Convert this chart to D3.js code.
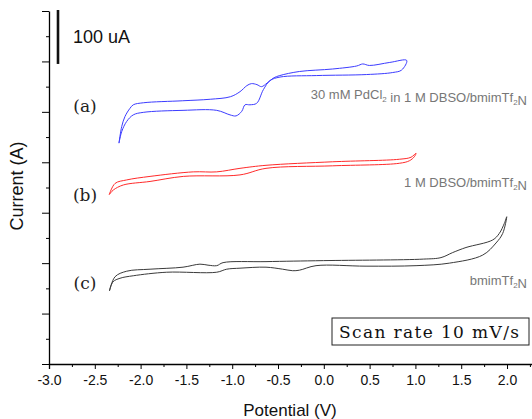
<!DOCTYPE html>
<html>
<head>
<meta charset="utf-8">
<script src="https://cdn.jsdelivr.net/npm/d3@7"></script>
<style>
  body { margin: 0; background: #fff; }
  svg { display: block; }
</style>
</head>
<body>
<div id="my_dataviz"></div>
<script>
// potential (V), current (uA), each loop closed at the left tip
const curveA = [
  [-2.236, 438], [-2.206, 471], [-2.170, 491], [-2.116, 507], [-2.080, 514], [-1.970, 518],
  [-1.54, 522], [-1.24, 525], [-1.02, 530], [-0.915, 540], [-0.84, 552], [-0.79, 556],
  [-0.73, 554], [-0.68, 550], [-0.62, 557], [-0.55, 567], [-0.48, 572], [-0.267, 580],
  [0.097, 585], [0.36, 591], [0.425, 595], [0.497, 592], [0.72, 598], [0.905, 602],
  [0.85, 583], [0.752, 578], [0.468, 574], [-0.078, 572], [-0.478, 569], [-0.587, 562],
  [-0.660, 544], [-0.733, 517], [-0.806, 514], [-0.860, 514], [-0.896, 501], [-0.958, 492],
  [-1.024, 494], [-1.169, 503], [-1.537, 503], [-1.971, 499], [-2.080, 494], [-2.152, 481],
  [-2.206, 461], [-2.236, 438]
];
const curveB = [
  [-2.342, 336], [-2.279, 358], [-2.152, 365], [-1.897, 372], [-1.425, 381], [-1.169, 381],
  [-0.915, 388], [-0.631, 394], [0.097, 401], [0.824, 406], [0.952, 410], [1.007, 418],
  [0.988, 411], [0.934, 403], [0.824, 398], [0.097, 393], [-0.631, 388], [-0.915, 375],
  [-1.534, 372], [-1.897, 362], [-2.189, 355], [-2.298, 345], [-2.342, 336]
];
const curveC = [
  [-2.340, 145], [-2.279, 173], [-2.152, 184], [-1.897, 188], [-1.537, 192], [-1.352, 198],
  [-1.264, 196], [-1.169, 195], [-1.100, 201], [-0.631, 203], [-0.005, 205], [1.086, 208],
  [1.279, 211], [1.407, 221], [1.552, 231], [1.844, 246], [1.916, 259], [1.971, 279],
  [1.997, 292],
  [1.953, 259], [1.880, 240], [1.735, 216], [1.370, 200], [1.007, 195], [0.461, 194],
  [-0.085, 195], [-0.267, 186], [-0.340, 185], [-0.449, 188], [-0.631, 192], [-0.915, 190],
  [-1.060, 188], [-1.169, 182], [-1.715, 182], [-2.080, 175], [-2.225, 170], [-2.301, 163],
  [-2.340, 145]
];
const curveColors = ["#3c3cff", "#ff2a2a", "#3a3a3a"];
const curveTags = ["(a)", "(b)", "(c)"];
const xTicks = [-3.0, -2.5, -2.0, -1.5, -1.0, -0.5, 0.0, 0.5, 1.0, 1.5, 2.0];
const scaleBar = [600, 700]; // 100 uA

const W = 532, H = 419;
const svg = d3.select("#my_dataviz").append("svg")
  .attr("width", W).attr("height", H);

const x = d3.scaleLinear().domain([-3, 2.3]).range([49, 534.5]);
const y = d3.scaleLinear().domain([0, 700]).range([364, 11]);

// x axis: major ticks + minor ticks, both down
const xAxis = svg.append("g").attr("transform", `translate(0,${y(0)})`);
xAxis.call(d3.axisBottom(x).tickValues(xTicks).tickSize(5).tickFormat(d => d.toFixed(1)))
  .call(g => g.select(".domain").attr("stroke-width", 1.3))
  .call(g => g.selectAll("text").attr("font-family", "Liberation Sans, Arial, sans-serif")
    .attr("font-size", 14).attr("fill", "#111").attr("dy", "0.9em"));
xAxis.append("g").call(d3.axisBottom(x).tickValues(d3.range(-2.75, 2.3, 0.5)).tickSize(3).tickFormat(""))
  .call(g => g.select(".domain").remove());

// y axis: no labels
const yAxis = svg.append("g").attr("transform", `translate(${x(-3)},0)`);
yAxis.call(d3.axisLeft(y).tickValues(d3.range(0, 701, 100)).tickSize(7).tickFormat("").tickSizeOuter(0))
  .call(g => g.select(".domain").attr("stroke-width", 1.3));
yAxis.append("g").call(d3.axisLeft(y).tickValues(d3.range(50, 700, 100)).tickSize(3).tickFormat(""))
  .call(g => g.select(".domain").remove());

// curves
const line = d3.line().x(d => x(d[0])).y(d => y(d[1])).curve(d3.curveCatmullRom.alpha(0.5));
[curveA, curveB, curveC].forEach((c, i) => {
  svg.append("path").datum(c)
    .attr("d", line)
    .attr("fill", "none")
    .attr("stroke", curveColors[i])
    .attr("stroke-width", 1);
});

// (a) (b) (c)
const tagY = [106, 195, 283];
curveTags.forEach((t, i) => {
  svg.append("text").attr("x", 85).attr("y", tagY[i]).attr("dy", "0.35em")
    .attr("text-anchor", "middle")
    .attr("font-family", "DejaVu Serif, serif").attr("font-size", 17)
    .attr("fill", "#222").text(t);
});

// right labels with subscripts
function label(yPos, parts) {
  const t = svg.append("text").attr("x", 527).attr("y", yPos).attr("text-anchor", "end")
    .attr("font-family", "Liberation Sans, Arial, sans-serif").attr("font-size", 13)
    .attr("fill", "#777");
  parts.forEach(p => {
    if (p.sub) {
      t.append("tspan").attr("font-size", 8).attr("dy", 3).text(p.s);
      t.append("tspan").attr("dy", -3).text("");
    } else {
      t.append("tspan").text(p.s);
    }
  });
}
label(99, [{s: "30 mM PdCl"}, {s: "2", sub: true}, {s: " in 1 M DBSO/bmimTf"}, {s: "2", sub: true}, {s: "N"}]);
label(187, [{s: "1 M DBSO/bmimTf"}, {s: "2", sub: true}, {s: "N"}]);
label(285, [{s: "bmimTf"}, {s: "2", sub: true}, {s: "N"}]);

// scale bar
svg.append("line")
  .attr("x1", 58).attr("x2", 58)
  .attr("y1", y(scaleBar[1]) - 1).attr("y2", y(scaleBar[1]) + (y(scaleBar[0]) - y(scaleBar[1])) * 1.05)
  .attr("stroke", "#111").attr("stroke-width", 2.6);
svg.append("text").attr("x", 73).attr("y", 43)
  .attr("font-family", "Liberation Sans, Arial, sans-serif").attr("font-size", 18)
  .attr("fill", "#111").text("100 uA");

// scan rate box
svg.append("rect").attr("x", 332).attr("y", 318).attr("width", 197).attr("height", 27)
  .attr("fill", "#fff").attr("stroke", "#222").attr("stroke-width", 1);
svg.append("text").attr("x", 339).attr("y", 332).attr("dy", "0.35em")
  .attr("textLength", 180).attr("lengthAdjust", "spacing")
  .attr("font-family", "DejaVu Serif, serif").attr("font-size", 17)
  .attr("fill", "#111").text("Scan rate 10 mV/s");

// axis titles
svg.append("text").attr("x", 290).attr("y", 416).attr("text-anchor", "middle")
  .attr("font-family", "Liberation Sans, Arial, sans-serif").attr("font-size", 17)
  .attr("fill", "#111").text("Potential (V)");
svg.append("text").attr("transform", "translate(23,186) rotate(-90)").attr("text-anchor", "middle")
  .attr("font-family", "Liberation Sans, Arial, sans-serif").attr("font-size", 18)
  .attr("fill", "#111").text("Current (A)");
</script>
</body>
</html>
